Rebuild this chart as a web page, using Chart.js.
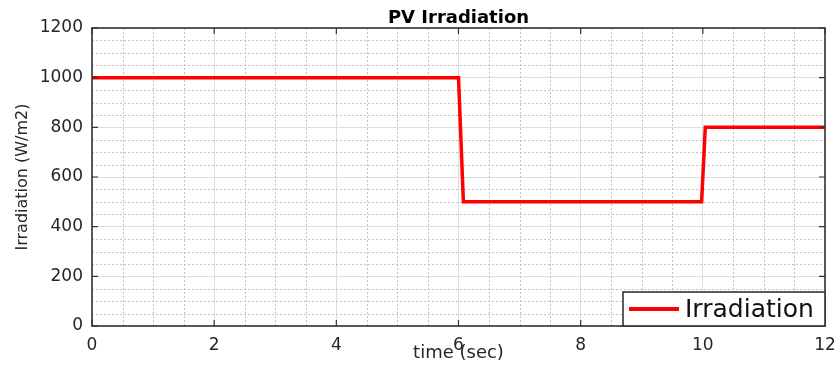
<!DOCTYPE html>
<html>
<head>
<meta charset="utf-8">
<script src="https://cdn.jsdelivr.net/npm/chart.js@4.4.1/dist/chart.umd.min.js"></script>
<style>
  html, body { margin: 0; padding: 0; background: #fff; }
  #wrap { width: 834px; height: 369px; position: relative; }
</style>
</head>
<body>
<div id="wrap"><canvas id="c" width="834" height="369"></canvas></div>
<script>
// ---- data ----
const timeSec = [0, 6.0, 6.08, 9.98, 10.04, 12];
const irradiation = [1000, 1000, 500, 500, 800, 800];
const seriesLabel = 'Irradiation';
const chartTitle = 'PV Irradiation';
const xTitle = 'time (sec)';
const yTitle = 'Irradiation (W/m2)';
const xRange = [0, 12];
const yRange = [0, 1200];
const xMajorStep = 2, xMinorStep = 0.5;
const yMajorStep = 200, yMinorStep = 50;

const FONT = 'DejaVu Sans';
const frameColor = '#333333';

const points = timeSec.map((t, i) => ({ x: t, y: irradiation[i] }));

const matlabPlugin = {
  id: 'matlabAxes',
  beforeDatasetsDraw(chart) {
    const { ctx, chartArea: a, scales: { x, y } } = chart;
    ctx.save();
    ctx.strokeStyle = '#c2c2c2';
    ctx.lineWidth = 1;
    ctx.setLineDash([2, 2]);
    for (let v = xRange[0]; v <= xRange[1] + 1e-9; v += xMinorStep) {
      if (Math.abs(v / xMajorStep - Math.round(v / xMajorStep)) < 1e-6) continue;
      const px = Math.round(x.getPixelForValue(v)) + 0.5;
      ctx.beginPath(); ctx.moveTo(px, a.top); ctx.lineTo(px, a.bottom); ctx.stroke();
    }
    for (let v = yRange[0]; v <= yRange[1] + 1e-9; v += yMinorStep) {
      if (Math.abs(v / yMajorStep - Math.round(v / yMajorStep)) < 1e-6) continue;
      const py = Math.round(y.getPixelForValue(v)) + 0.5;
      ctx.beginPath(); ctx.moveTo(a.left, py); ctx.lineTo(a.right, py); ctx.stroke();
    }
    ctx.restore();
  },
  afterDatasetsDraw(chart) {
    const { ctx, chartArea: a, scales: { x, y } } = chart;
    ctx.save();
    ctx.strokeStyle = frameColor;
    ctx.lineWidth = 1.6;
    ctx.setLineDash([]);
    ctx.strokeRect(a.left, a.top, a.right - a.left, a.bottom - a.top);
    const tl = 6;
    ctx.lineWidth = 1.2;
    for (let v = xRange[0]; v <= xRange[1] + 1e-9; v += xMajorStep) {
      const px = x.getPixelForValue(v);
      ctx.beginPath();
      ctx.moveTo(px, a.bottom); ctx.lineTo(px, a.bottom - tl);
      ctx.moveTo(px, a.top); ctx.lineTo(px, a.top + tl);
      ctx.stroke();
    }
    for (let v = yRange[0]; v <= yRange[1] + 1e-9; v += yMajorStep) {
      const py = y.getPixelForValue(v);
      ctx.beginPath();
      ctx.moveTo(a.left, py); ctx.lineTo(a.left + tl, py);
      ctx.moveTo(a.right, py); ctx.lineTo(a.right - tl, py);
      ctx.stroke();
    }
    // title centred over the plot area
    ctx.fillStyle = '#000000';
    ctx.font = 'bold 18px "' + FONT + '"';
    ctx.textAlign = 'center';
    ctx.textBaseline = 'middle';
    ctx.fillText(chartTitle, (a.left + a.right) / 2, a.top - 10);
    // legend box
    const ds = chart.data.datasets[0];
    const bw = 202, bh = 34;
    const bx = a.right - bw, by = a.bottom - bh;
    ctx.fillStyle = '#ffffff';
    ctx.fillRect(bx, by, bw, bh);
    ctx.lineWidth = 1.6;
    ctx.strokeStyle = frameColor;
    ctx.strokeRect(bx, by, bw, bh);
    const cy = by + bh / 2;
    ctx.strokeStyle = ds.borderColor;
    ctx.lineWidth = 4;
    ctx.beginPath(); ctx.moveTo(bx + 6, cy); ctx.lineTo(bx + 56, cy); ctx.stroke();
    ctx.fillStyle = '#111111';
    ctx.font = '25px "' + FONT + '"';
    ctx.textBaseline = 'middle';
    ctx.textAlign = 'left';
    ctx.fillText(ds.label, bx + 62, cy + 1);
    ctx.restore();
  }
};

new Chart(document.getElementById('c'), {
  type: 'line',
  data: {
    datasets: [{
      label: seriesLabel,
      data: points,
      borderColor: '#ff0000',
      borderWidth: 3.5,
      pointRadius: 0,
      tension: 0,
      fill: false
    }]
  },
  options: {
    responsive: false,
    animation: false,
    layout: { padding: { left: 0, right: 9, top: 28, bottom: 0 } },
    plugins: {
      legend: { display: false },
      tooltip: { enabled: false },
      title: { display: false }
    },
    scales: {
      x: {
        type: 'linear',
        min: xRange[0], max: xRange[1],
        afterFit(s) { s.height = 43; s.paddingLeft = 0; s.paddingRight = 0; },
        ticks: {
          stepSize: xMajorStep,
          color: '#262626',
          font: { family: FONT, size: 17 },
          padding: 9,
          maxRotation: 0,
          callback: (v) => String(v)
        },
        grid: { color: '#dedede', lineWidth: 1, drawTicks: false },
        border: { display: false },
        title: {
          display: true, text: xTitle, color: '#262626',
          font: { family: FONT, size: 18, lineHeight: 1.2 },
          padding: { top: 0, bottom: 5 }
        }
      },
      y: {
        min: yRange[0], max: yRange[1],
        afterFit(s) { s.width = 92; s.paddingTop = 0; s.paddingBottom = 0; },
        ticks: {
          stepSize: yMajorStep,
          color: '#262626',
          font: { family: FONT, size: 17 },
          padding: 9,
          callback: (v) => String(v)
        },
        grid: { color: '#dedede', lineWidth: 1, drawTicks: false },
        border: { display: false },
        title: {
          display: true, text: yTitle, color: '#262626',
          font: { family: FONT, size: 16, lineHeight: 1.2 },
          padding: { top: 13, bottom: 0 }
        }
      }
    }
  },
  plugins: [matlabPlugin]
});
</script>
</body>
</html>
